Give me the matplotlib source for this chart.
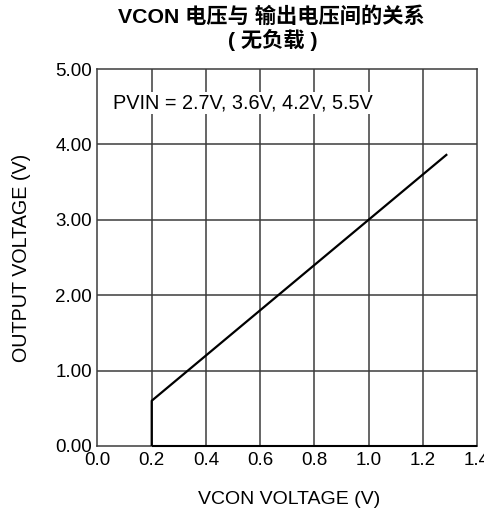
import matplotlib
matplotlib.use("Agg")
import matplotlib.pyplot as plt

# Transfer curve: VCON control voltage vs. output voltage (no load)
vcon = [0.2, 0.2, 1.29]
vout = [0.0, 0.6, 3.87]

x_ticks = [0.0, 0.2, 0.4, 0.6, 0.8, 1.0, 1.2, 1.4]
x_tick_labels = ["0.0", "0.2", "0.4", "0.6", "0.8", "1.0", "1.2", "1.4"]
y_ticks = [0.0, 1.0, 2.0, 3.0, 4.0, 5.0]
y_tick_labels = ["0.00", "1.00", "2.00", "3.00", "4.00", "5.00"]

title_line1 = "VCON 电压与 输出电压间的关系"
title_line2 = "( 无负载 )"
note = "PVIN = 2.7V, 3.6V, 4.2V, 5.5V"
x_label = "VCON VOLTAGE (V)"
y_label = "OUTPUT VOLTAGE (V)"

fonts = ["Liberation Sans", "Noto Sans CJK SC", "DejaVu Sans"]
plt.rcParams["font.family"] = fonts

W, H = 485, 521
fig = plt.figure(figsize=(W / 100, H / 100), dpi=100)
left, right, top, bottom = 97.5, 477, 69, 446
ax = fig.add_axes([left / W, 1 - bottom / H, (right - left) / W, (bottom - top) / H])

ax.set_xlim(0, 1.4)
ax.set_ylim(0, 5)

grid_color = "#3c3c3c"
for x in x_ticks[1:-1]:
    ax.axvline(x, color=grid_color, lw=1.1, zorder=1)
for y in y_ticks[1:-1]:
    ax.axhline(y, color=grid_color, lw=1.1, zorder=1)

for s in ax.spines.values():
    s.set_color(grid_color)
    s.set_linewidth(1.1)

ax.plot(vcon, vout, color="black", lw=1.6, zorder=3, solid_capstyle="butt")
ax.hlines(0, vcon[0], 1.4, color="black", lw=1.5, zorder=3, clip_on=False)

ax.set_xticks(x_ticks)
ax.set_xticklabels(x_tick_labels)
ax.set_yticks(y_ticks)
ax.set_yticklabels(y_tick_labels)
ax.tick_params(length=0, labelsize=13.5, pad=4, colors="black")

ax.text(0.058, 4.55, note, fontsize=14.3, va="center", ha="left", zorder=4,
        bbox=dict(facecolor="white", edgecolor="none", pad=1.0))

fig.text(22 / W, 1 - 258 / H, y_label, rotation=90, fontsize=14.2,
         ha="center", va="center")
fig.text(289 / W, 1 - 500 / H, x_label, fontsize=14, ha="center", va="center")
fig.text(271 / W, 1 - 17 / H, title_line1, fontsize=15.3, fontweight="bold",
         ha="center", va="center")
fig.text(273 / W, 1 - 40 / H, title_line2, fontsize=15.3, fontweight="bold",
         ha="center", va="center")

fig.savefig("out.png", dpi=100)
